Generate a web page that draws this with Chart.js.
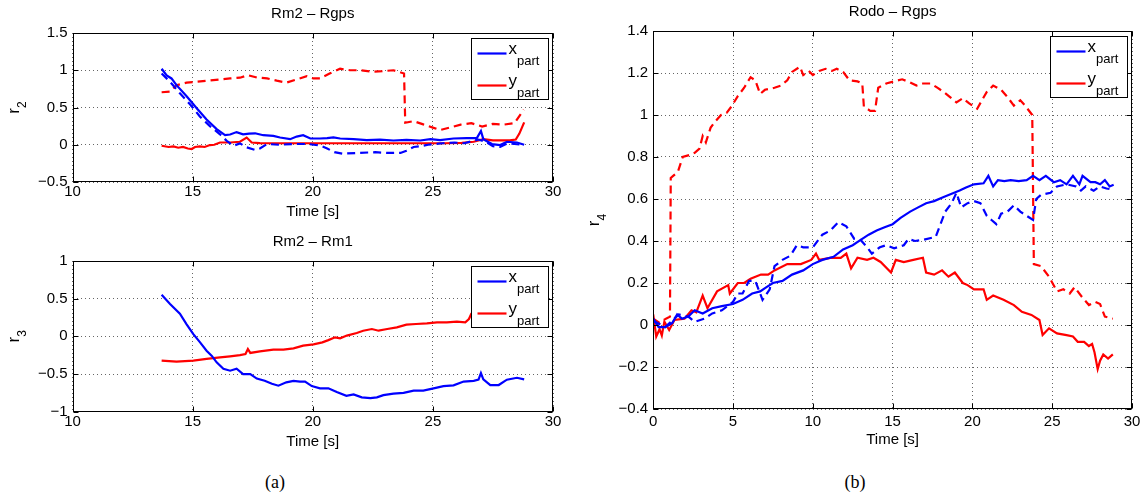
<!DOCTYPE html>
<html>
<head>
<meta charset="utf-8">
<script src="https://cdn.jsdelivr.net/npm/chart.js@4.4.1/dist/chart.umd.min.js"></script>
<style>
  html, body { margin: 0; padding: 0; background: #fff; }
  body { width: 1145px; height: 494px; position: relative; overflow: hidden; }
  canvas { position: absolute; }
  .cap { position: absolute; font-family: 'Liberation Serif', serif; font-size: 18px; transform: translate(-50%, -50%); }
</style>
</head>
<body>
<canvas id="r2" width="570" height="228" style="left:0;top:0"></canvas>
<canvas id="r3" width="570" height="228" style="left:0;top:230px"></canvas>
<canvas id="r4" width="565" height="460" style="left:580px;top:0"></canvas>
<div class="cap" style="left:275px;top:482px">(a)</div>
<div class="cap" style="left:855px;top:482px">(b)</div>
<script>
// Rm2 - Rgps
const r2_xpart_t = [13.71,13.92,14.12,14.33,14.75,15.17,15.58,16.0,16.35,16.56,16.83,17.1,17.35,17.6,17.94,18.36,18.64,19.06,19.33,19.6,19.9,20.3,20.6,20.86,21.14,21.7,22.25,22.8,23.36,23.9,24.47,24.9,25.3,25.86,26.4,26.83,27.0,27.1,27.46,27.8,28.08,28.5,28.8];
const r2_xpart = [1.02,0.93,0.89,0.80,0.65,0.49,0.34,0.21,0.13,0.137,0.17,0.14,0.15,0.154,0.128,0.12,0.097,0.075,0.11,0.128,0.084,0.084,0.09,0.10,0.084,0.075,0.062,0.07,0.057,0.066,0.057,0.075,0.062,0.084,0.088,0.09,0.185,0.075,0.009,-0.004,0.04,0.03,0.0];
const r2_xpart_dash_t = [13.71,14.06,14.47,14.9,15.3,15.72,16.14,16.42,16.7,16.97,17.25,17.6,17.8,18.1,18.6,19.2,19.8,20.3,20.6,20.9,21.26,21.85,22.6,23.1,23.65,23.9,24.2,24.5,24.8,25.4,25.9,26.3,26.9,27.2,27.5,27.8,28.1,28.4,28.7];
const r2_xpart_dash = [0.956,0.846,0.69,0.54,0.38,0.25,0.14,0.053,-0.013,0.018,-0.035,-0.07,-0.05,0.01,0.0,0.01,0.01,-0.01,-0.05,-0.1,-0.12,-0.11,-0.10,-0.11,-0.11,-0.08,-0.03,-0.02,0.0,0.02,0.03,0.02,0.07,0.04,-0.02,-0.03,0.02,0.01,0.0];
const r2_ypart_t = [13.71,14.0,14.2,14.4,14.6,14.8,14.96,15.1,15.3,15.5,15.72,15.9,16.14,16.56,16.97,17.25,17.46,17.8,18.5,19.5,20.5,21.5,22.5,23.5,24.5,25.5,26.2,26.7,27.1,27.5,27.8,28.2,28.45,28.6,28.8];
const r2_ypart = [-0.013,-0.03,-0.022,-0.04,-0.03,-0.05,-0.057,-0.03,-0.022,-0.03,-0.004,0.0,0.03,0.03,0.04,0.097,0.03,0.022,0.02,0.02,0.02,0.02,0.02,0.02,0.02,0.02,0.025,0.04,0.075,0.06,0.06,0.06,0.07,0.15,0.3];
const r2_ypart_dash_t = [13.71,14.06,14.33,14.75,15.17,15.58,16.14,16.56,16.97,17.3,17.67,18.1,18.5,18.9,19.33,19.75,20.03,20.3,20.7,21.14,21.55,21.97,22.5,22.9,23.36,23.8,23.85,24.2,24.6,25.0,25.3,25.7,26.16,26.6,27.05,27.5,27.94,28.4,28.78];
const r2_ypart_dash = [0.705,0.714,0.80,0.833,0.846,0.86,0.877,0.89,0.90,0.934,0.903,0.89,0.86,0.833,0.877,0.92,0.89,0.89,0.956,1.02,1.0,1.0,0.98,0.987,1.0,0.956,0.295,0.317,0.273,0.23,0.198,0.23,0.27,0.29,0.245,0.28,0.27,0.29,0.47];

// Rm2 - Rm1
const r3_xpart_t = [13.71,14.06,14.47,14.75,15.03,15.31,15.58,15.8,16.0,16.28,16.56,16.83,17.1,17.4,17.67,18.0,18.3,18.57,18.9,19.2,19.47,19.68,19.96,20.3,20.65,21.0,21.4,21.7,22.04,22.4,22.67,22.94,23.36,23.78,24.2,24.6,25.03,25.44,25.86,26.28,26.7,26.9,27.0,27.1,27.39,27.74,28.08,28.5,28.8];
const r3_xpart = [0.553,0.43,0.30,0.16,0.03,-0.08,-0.19,-0.26,-0.345,-0.43,-0.456,-0.43,-0.5,-0.5,-0.56,-0.59,-0.63,-0.655,-0.61,-0.59,-0.60,-0.60,-0.66,-0.69,-0.69,-0.74,-0.79,-0.77,-0.81,-0.82,-0.81,-0.78,-0.76,-0.75,-0.72,-0.72,-0.69,-0.66,-0.65,-0.60,-0.59,-0.575,-0.487,-0.57,-0.646,-0.646,-0.575,-0.55,-0.57];
const r3_ypart_t = [13.71,14.33,15.03,15.58,16.14,16.56,16.97,17.2,17.3,17.4,17.8,18.36,18.78,19.2,19.6,20.03,20.4,20.65,20.93,21.14,21.42,21.83,22.1,22.46,22.74,23.1,23.5,23.9,24.3,24.75,25.17,25.58,26.0,26.35,26.5,26.6,27.0,28.0,28.8];
const r3_ypart = [-0.323,-0.336,-0.323,-0.30,-0.28,-0.265,-0.25,-0.234,-0.168,-0.22,-0.20,-0.177,-0.177,-0.16,-0.124,-0.106,-0.08,-0.05,-0.013,-0.027,0.01,0.044,0.075,0.097,0.075,0.097,0.12,0.155,0.164,0.173,0.186,0.186,0.195,0.186,0.23,0.30,0.32,0.35,0.38];

// Rodo - Rgps
const r4_xpart_t = [0,0.34,0.75,1.2,1.5,1.8,2.2,2.6,3.1,3.7,4.3,5.0,5.6,6.2,6.7,7.1,7.5,8.1,8.7,9.4,10,10.6,11.3,11.9,12.5,13.0,13.5,14,14.5,15,15.5,16.1,16.6,17.1,17.6,18.2,18.7,19.2,19.6,20.1,20.7,21.0,21.3,21.6,22.0,22.4,22.9,23.4,23.8,24.2,24.6,25.1,25.5,25.9,26.3,26.7,26.9,27.4,27.7,28.0,28.3,28.6,28.85];
const r4_xpart = [0.03,-0.01,-0.01,0.01,0.05,0.03,0.04,0.07,0.055,0.08,0.09,0.10,0.12,0.15,0.16,0.18,0.2,0.21,0.24,0.26,0.29,0.31,0.325,0.36,0.38,0.405,0.43,0.45,0.465,0.48,0.51,0.54,0.56,0.58,0.59,0.61,0.625,0.64,0.655,0.67,0.675,0.71,0.66,0.69,0.685,0.69,0.685,0.69,0.71,0.69,0.71,0.68,0.69,0.67,0.71,0.67,0.71,0.68,0.68,0.67,0.69,0.66,0.668];
const r4_xpart_dash_t = [0,0.75,1.6,2.2,2.6,3.2,3.7,4.3,5.0,5.3,5.6,6.0,6.4,6.85,7.3,7.6,8.1,8.6,9.0,9.4,10,10.6,11.1,11.6,12.1,12.6,13.0,13.4,13.7,14.2,14.6,15.1,15.7,16.0,16.4,16.9,17.7,18.0,18.3,18.7,19.0,19.3,19.7,20.1,20.5,20.9,21.2,21.5,21.8,22.2,22.6,23.0,23.4,23.8,24.0,24.3,24.9,25.3,25.9,26.5,26.8,27.1,27.6,28.0,28.4,28.85];
const r4_xpart_dash = [0.02,-0.01,0.05,0.04,0.015,0.03,0.055,0.07,0.11,0.15,0.15,0.21,0.21,0.12,0.17,0.28,0.31,0.33,0.38,0.37,0.37,0.43,0.45,0.49,0.47,0.41,0.405,0.37,0.34,0.37,0.38,0.365,0.38,0.41,0.40,0.405,0.42,0.48,0.54,0.58,0.63,0.56,0.58,0.59,0.58,0.52,0.50,0.48,0.53,0.54,0.57,0.54,0.52,0.50,0.6,0.62,0.63,0.66,0.67,0.66,0.64,0.66,0.64,0.66,0.65,0.645];
const r4_ypart_t = [0,0.19,0.4,0.54,0.7,1.0,1.33,1.96,2.4,2.7,3.1,3.4,4.0,4.7,4.8,5.3,5.7,6.1,6.75,7.2,7.6,8.4,9.25,9.9,10.2,10.4,11.1,11.75,12.1,12.4,12.8,13.4,13.8,14.25,14.9,15.2,15.7,16.3,16.9,17.1,17.6,18.1,18.5,18.9,19.4,19.7,20.1,20.7,20.9,21.3,21.95,22.6,23.1,23.7,24.2,24.4,24.8,25.3,25.9,26.3,26.6,27.0,27.3,27.5,27.65,27.85,28.0,28.2,28.5,28.8];
const r4_ypart = [0.05,-0.055,-0.02,-0.05,0.016,-0.024,0.024,0.03,0.07,0.06,0.14,0.08,0.16,0.19,0.15,0.2,0.2,0.22,0.24,0.24,0.26,0.29,0.29,0.31,0.34,0.31,0.32,0.32,0.34,0.27,0.32,0.31,0.32,0.30,0.25,0.31,0.30,0.31,0.32,0.25,0.24,0.26,0.23,0.25,0.2,0.19,0.17,0.17,0.12,0.14,0.12,0.095,0.063,0.048,0.024,-0.048,-0.016,-0.04,-0.048,-0.055,-0.08,-0.08,-0.1,-0.09,-0.13,-0.21,-0.17,-0.14,-0.16,-0.14];
const r4_ypart_dash_t = [0,0.4,0.8,1.05,1.1,1.25,1.55,1.85,2.3,2.6,2.9,3.1,3.3,3.6,3.9,4.25,4.6,4.9,5.3,5.7,6.1,6.4,6.7,7.0,7.6,8.0,8.4,8.7,9.2,9.4,9.75,10.0,10.4,10.8,11.2,11.5,11.9,12.3,12.8,13.1,13.2,13.6,13.9,14.1,14.6,15.1,15.6,16.1,16.5,16.9,17.4,17.8,18.2,18.6,19.0,19.4,19.8,20.3,20.6,20.9,21.3,21.8,22.2,22.6,23.0,23.3,23.75,23.85,24.3,24.8,25.3,25.7,26.1,26.4,26.9,27.3,27.7,28.0,28.3,28.8];
const r4_ypart_dash = [0.03,0.01,0.03,0.04,0.7,0.71,0.73,0.80,0.81,0.82,0.84,0.90,0.87,0.94,0.97,1.0,1.01,1.04,1.09,1.13,1.18,1.165,1.10,1.12,1.13,1.14,1.165,1.205,1.23,1.19,1.21,1.19,1.21,1.22,1.21,1.22,1.205,1.165,1.16,1.15,1.04,1.02,1.02,1.13,1.15,1.16,1.17,1.155,1.14,1.15,1.15,1.13,1.11,1.085,1.06,1.08,1.055,1.03,1.07,1.11,1.14,1.12,1.085,1.045,1.07,1.045,1.0,0.29,0.28,0.23,0.16,0.17,0.15,0.18,0.13,0.095,0.11,0.10,0.04,0.03];

const BLUE = '#0000ff', RED = '#ff0000';
const FONT = "'Liberation Sans', Arial, sans-serif";
Chart.defaults.font.family = FONT;
Chart.defaults.color = '#000';

function pts(t, v) { return t.map((x, i) => ({ x: x, y: v[i] })); }
function fmt(v) { return String(Math.round(v * 100) / 100).replace('-', '\u2212'); }

function line(t, v, color, dashed) {
  return {
    data: pts(t, v), borderColor: color, borderWidth: 2.2, borderDash: dashed ? [8, 5] : [],
    pointRadius: 0, tension: 0, fill: false
  };
}

// MATLAB style box, inward ticks, title, y label and legend
const matlabAxes = {
  id: 'matlabAxes',
  afterDatasetsDraw(chart, args, o) {
    const { ctx, chartArea: a, scales: { x, y } } = chart;
    const L = Math.round(a.left) + 0.5, R = Math.round(a.right) - 0.5;
    const T = Math.round(a.top) + 0.5, B = Math.round(a.bottom) - 0.5;
    ctx.save();
    ctx.setLineDash([]);
    ctx.strokeStyle = '#000';
    ctx.lineWidth = 1;
    ctx.beginPath();
    x.ticks.forEach(t => {
      const p = Math.round(x.getPixelForValue(t.value)) + 0.5;
      ctx.moveTo(p, B); ctx.lineTo(p, B - 5);
      ctx.moveTo(p, T); ctx.lineTo(p, T + 5);
    });
    y.ticks.forEach(t => {
      const p = Math.round(y.getPixelForValue(t.value)) + 0.5;
      ctx.moveTo(L, p); ctx.lineTo(L + 5, p);
      ctx.moveTo(R, p); ctx.lineTo(R - 5, p);
    });
    ctx.stroke();
    ctx.strokeRect(L, T, R - L, B - T);

    ctx.fillStyle = '#000';
    ctx.textBaseline = 'middle';
    ctx.textAlign = 'center';
    ctx.font = '15px ' + FONT;
    ctx.fillText(o.title, (a.left + a.right) / 2, a.top - 19);

    // y label "r" with subscript, rotated
    ctx.save();
    ctx.translate(a.left - o.ylabOffset, (a.top + a.bottom) / 2);
    ctx.rotate(-Math.PI / 2);
    ctx.textAlign = 'left';
    ctx.font = '17px ' + FONT;
    const rw = ctx.measureText('r').width;
    ctx.font = '12px ' + FONT;
    const sw = ctx.measureText(o.ysub).width;
    const x0 = -(rw + sw) / 2;
    ctx.font = '17px ' + FONT;
    ctx.fillText('r', x0, -2);
    ctx.font = '12px ' + FONT;
    ctx.fillText(o.ysub, x0 + rw, 6);
    ctx.restore();

    // legend
    const w = 77, h = 61;
    const bx = Math.round(a.right - 5 - w) + 0.5, by = Math.round(a.top + 5) + 0.5;
    ctx.fillStyle = '#fff';
    ctx.fillRect(bx, by, w, h);
    ctx.strokeRect(bx, by, w, h);
    [[BLUE, 'x', 15], [RED, 'y', 47]].forEach(([c, s, dy]) => {
      ctx.strokeStyle = c;
      ctx.lineWidth = 2.2;
      ctx.beginPath();
      ctx.moveTo(bx + 6, by + dy); ctx.lineTo(bx + 35, by + dy);
      ctx.stroke();
      ctx.fillStyle = '#000';
      ctx.textAlign = 'left';
      ctx.font = '17px ' + FONT;
      ctx.fillText(s, bx + 37, by + dy - 4);
      const mw = ctx.measureText(s).width;
      ctx.font = '13px ' + FONT;
      ctx.fillText('part', bx + 37 + mw, by + dy + 8);
    });
    ctx.restore();
  }
};

function makeChart(id, datasets, cfg) {
  new Chart(document.getElementById(id), {
    type: 'line',
    data: { datasets: datasets },
    plugins: [matlabAxes],
    options: {
      responsive: false,
      animation: false,
      devicePixelRatio: 1,
      layout: { padding: { top: cfg.top, right: cfg.right, bottom: 0, left: 0 } },
      plugins: {
        legend: { display: false },
        tooltip: { enabled: false },
        matlabAxes: { title: cfg.title, ysub: cfg.ysub, ylabOffset: cfg.ylabOffset }
      },
      scales: {
        x: {
          type: 'linear', min: cfg.xmin, max: cfg.xmax,
          afterFit: s => { s.height = cfg.xh; },
          ticks: { stepSize: 5, font: { size: 15 }, padding: cfg.xpad, maxRotation: 0, callback: fmt },
          grid: { color: '#666', drawTicks: false },
          border: { display: false, dash: [1, 3] },
          title: { display: true, text: 'Time [s]', font: { size: 15 }, padding: { top: 0, bottom: cfg.tpad } }
        },
        y: {
          min: cfg.ymin, max: cfg.ymax,
          afterFit: s => { s.width = cfg.yw; },
          ticks: { stepSize: cfg.ystep, font: { size: 15 }, padding: 5, callback: fmt },
          grid: { color: '#666', drawTicks: false },
          border: { display: false, dash: [1, 3] }
        }
      }
    }
  });
}

makeChart('r2', [
  line(r2_xpart_t, r2_xpart, BLUE, false),
  line(r2_xpart_dash_t, r2_xpart_dash, BLUE, true),
  line(r2_ypart_t, r2_ypart, RED, false),
  line(r2_ypart_dash_t, r2_ypart_dash, RED, true)
], { title: 'Rm2 \u2013 Rgps', ysub: '2', ylabOffset: 56, top: 33, right: 17, xh: 46, yw: 72.5,
     xmin: 10, xmax: 30, ymin: -0.5, ymax: 1.5, ystep: 0.5, xpad: 1, tpad: 7 });

makeChart('r3', [
  line(r3_xpart_t, r3_xpart, BLUE, false),
  line(r3_ypart_t, r3_ypart, RED, false)
], { title: 'Rm2 \u2013 Rm1', ysub: '3', ylabOffset: 56, top: 31, right: 17, xh: 46.3, yw: 72.5,
     xmin: 10, xmax: 30, ymin: -1, ymax: 1, ystep: 0.5, xpad: 1, tpad: 7 });

makeChart('r4', [
  line(r4_xpart_t, r4_xpart, BLUE, false),
  line(r4_xpart_dash_t, r4_xpart_dash, BLUE, true),
  line(r4_ypart_t, r4_ypart, RED, false),
  line(r4_ypart_dash_t, r4_ypart_dash, RED, true)
], { title: 'Rodo \u2013 Rgps', ysub: '4', ylabOffset: 57, top: 31, right: 13, xh: 51, yw: 73.2,
     xmin: 0, xmax: 30, ymin: -0.4, ymax: 1.4, ystep: 0.2, xpad: 4, tpad: 11 });
</script>
</body>
</html>
